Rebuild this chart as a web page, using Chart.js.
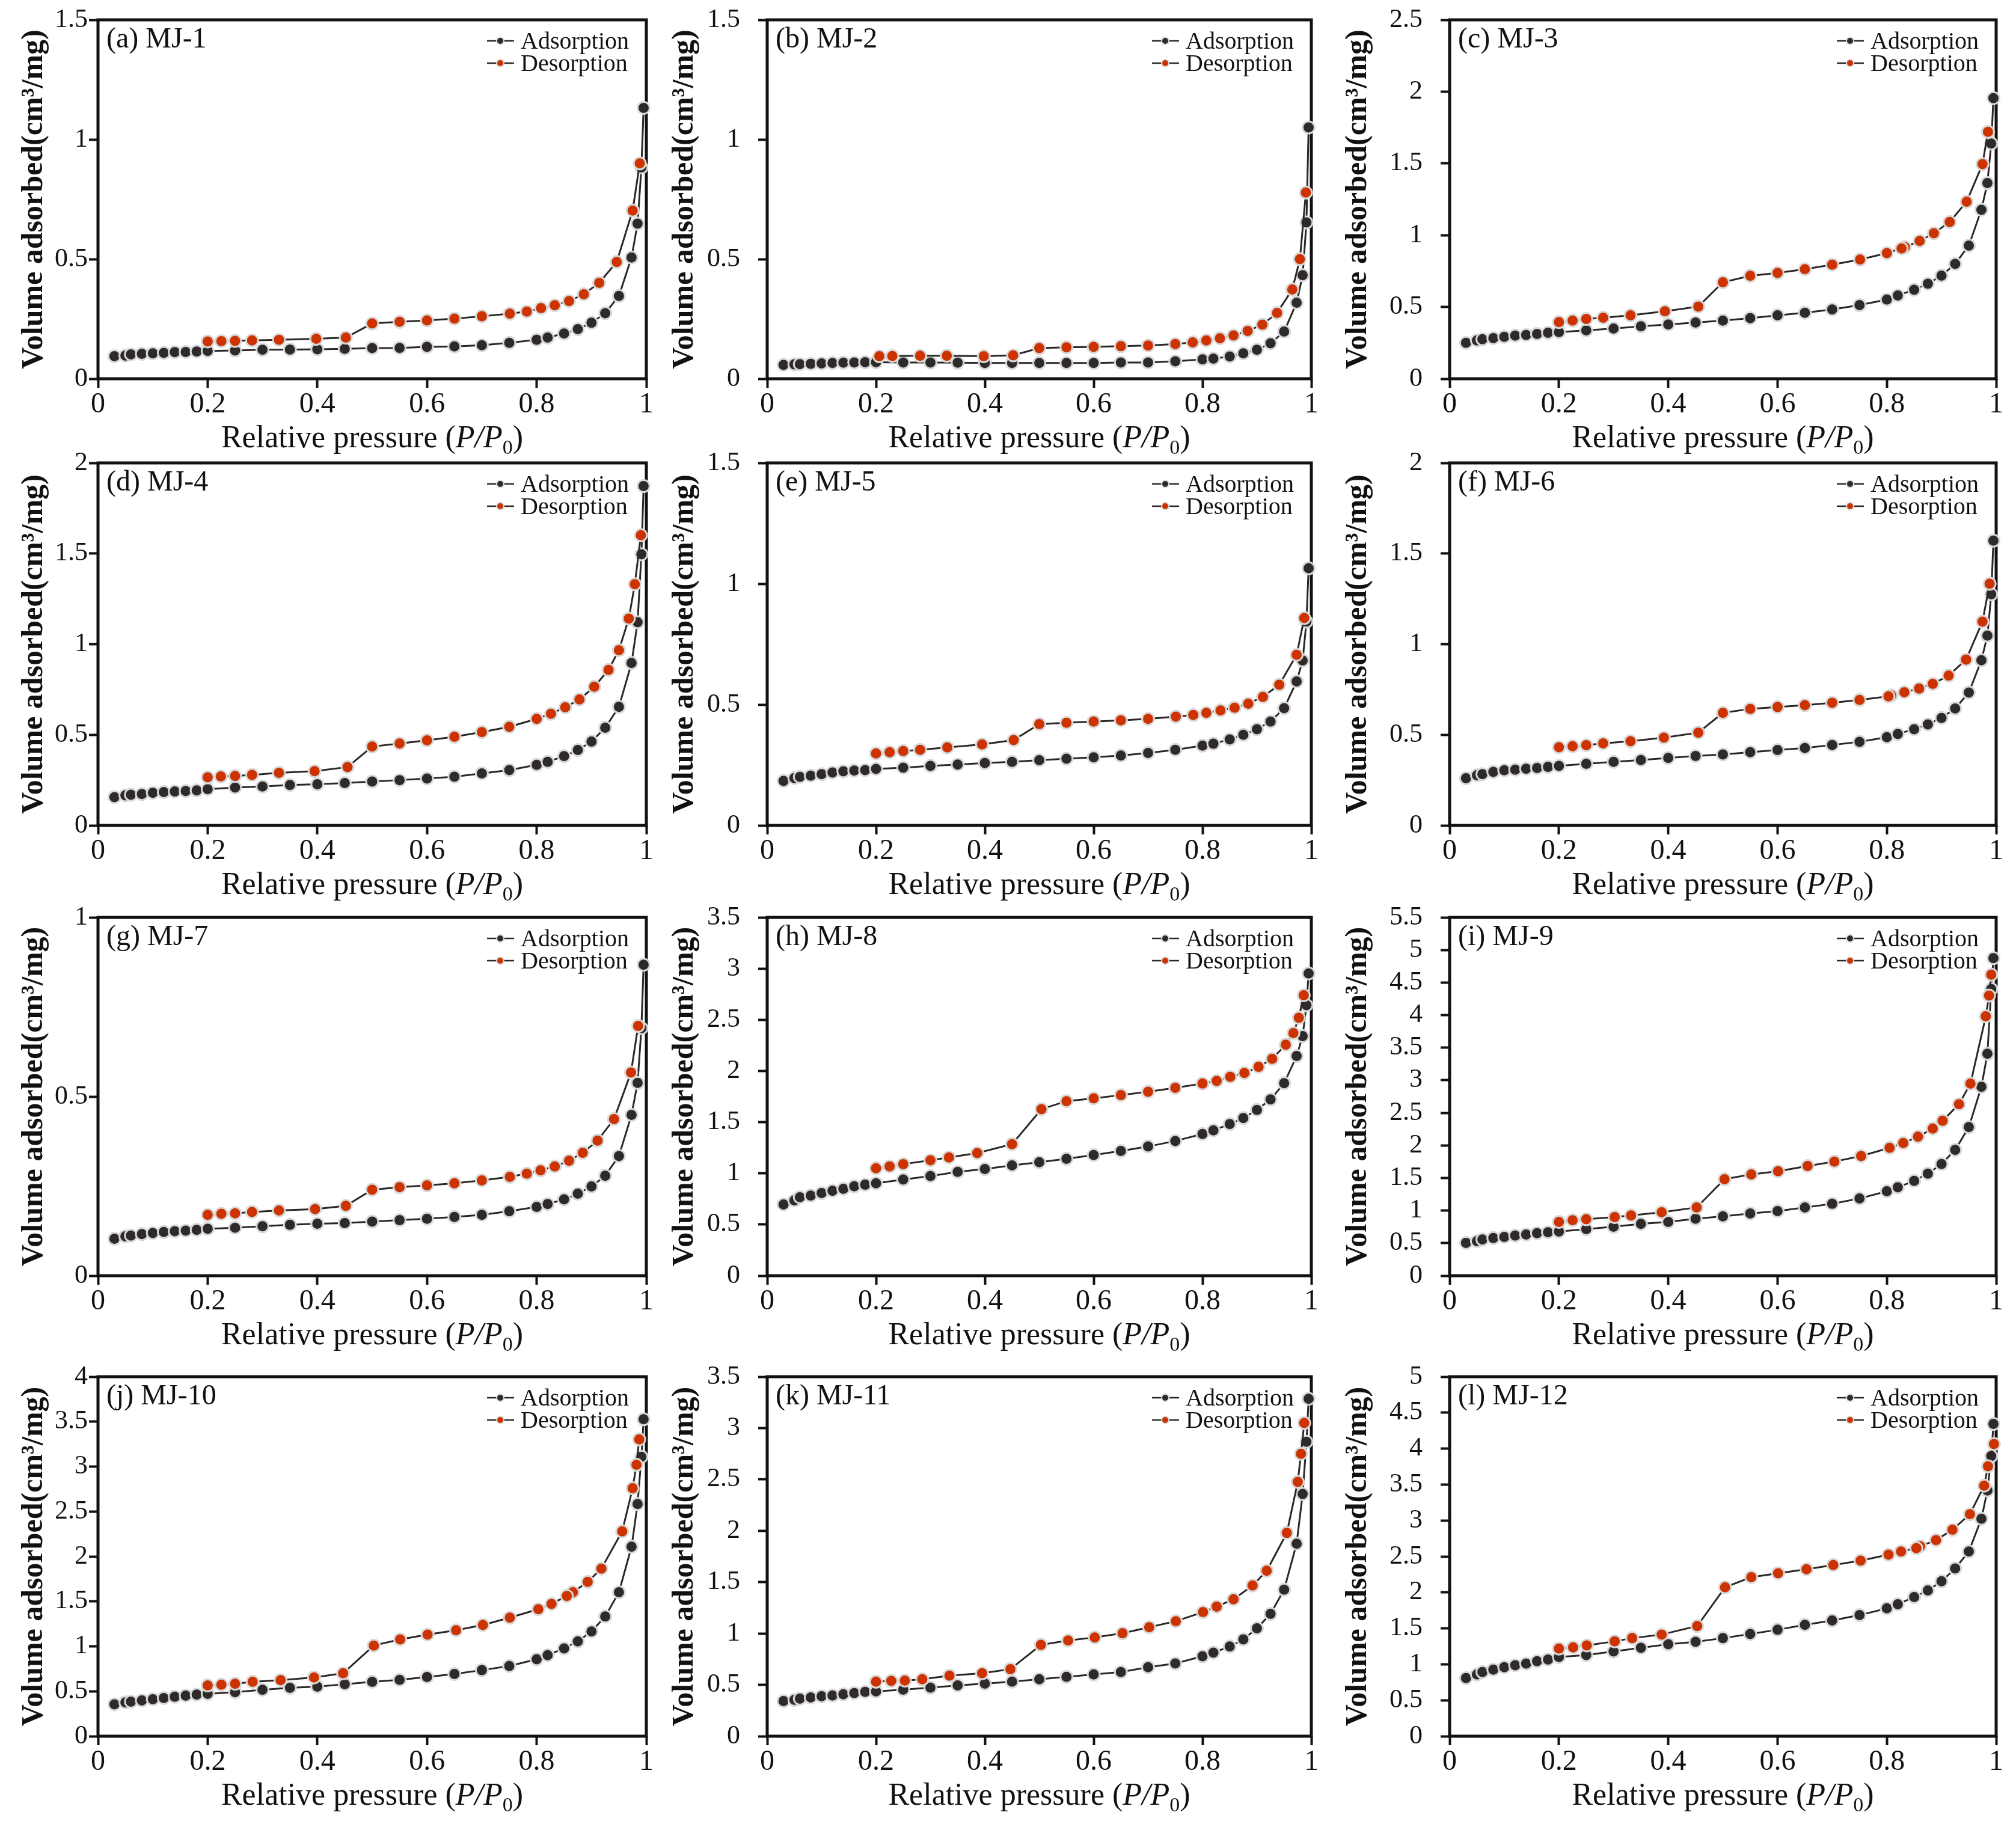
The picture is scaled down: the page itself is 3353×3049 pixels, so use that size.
<!DOCTYPE html>
<html>
<head>
<meta charset="utf-8">
<title>Adsorption-desorption isotherms MJ-1 to MJ-12</title>
<script src="https://cdn.jsdelivr.net/npm/chart.js@4.4.1/dist/chart.umd.min.js"></script>
<style>
  html, body { margin: 0; padding: 0; background: #fff; }
  #page { position: relative; width: 3353px; height: 3049px; overflow: hidden; background: #fff; }
  .panel { position: absolute; }
</style>
</head>
<body>
<div id="page"></div>
<script>
// relative pressure of the adsorption branch (same steps for every sample)
var adsX = [0.03, 0.05, 0.06, 0.08, 0.10, 0.12, 0.14, 0.16, 0.18, 0.20,
            0.25, 0.30, 0.35, 0.40, 0.45, 0.50, 0.55, 0.60, 0.65, 0.70,
            0.75, 0.80, 0.82, 0.85, 0.875, 0.90, 0.925, 0.95, 0.973, 0.984,
            0.991, 0.995];

// (a) MJ-1
var adsA = [0.094, 0.097, 0.102, 0.104, 0.106, 0.108, 0.111, 0.112, 0.114, 0.116,
            0.118, 0.121, 0.122, 0.123, 0.125, 0.128, 0.129, 0.133, 0.135, 0.140,
            0.150, 0.163, 0.172, 0.189, 0.207, 0.234, 0.274, 0.346, 0.507, 0.648,
            0.883, 1.132];
var desXA = [0.988, 0.975, 0.946, 0.914, 0.886, 0.859, 0.833, 0.808, 0.782, 0.751, 0.70,
             0.65, 0.60, 0.55, 0.50, 0.452, 0.398, 0.33, 0.281, 0.25, 0.225, 0.20];
var desA = [0.900, 0.703, 0.488, 0.401, 0.353, 0.325, 0.307, 0.295, 0.281, 0.272, 0.261,
            0.251, 0.244, 0.238, 0.231, 0.172, 0.167, 0.163, 0.160, 0.158, 0.157, 0.156];

// (b) MJ-2
var adsB = [0.058, 0.060, 0.061, 0.0625, 0.064, 0.066, 0.067, 0.068, 0.069, 0.069,
            0.068, 0.068, 0.067, 0.066, 0.066, 0.066, 0.066, 0.066, 0.068, 0.068,
            0.073, 0.081, 0.084, 0.093, 0.106, 0.121, 0.148, 0.197, 0.318, 0.433,
            0.653, 1.050];
var desXB = [0.99, 0.979, 0.965, 0.937, 0.91, 0.883, 0.857, 0.832, 0.807, 0.782, 0.75,
             0.70, 0.65, 0.60, 0.55, 0.50, 0.452, 0.398, 0.33, 0.281, 0.23, 0.206];
var desB = [0.778, 0.50, 0.373, 0.275, 0.226, 0.20, 0.181, 0.169, 0.160, 0.152, 0.145,
            0.139, 0.136, 0.133, 0.131, 0.128, 0.098, 0.094, 0.096, 0.096, 0.095, 0.094];

// (c) MJ-3
var adsC = [0.25, 0.267, 0.275, 0.283, 0.292, 0.30, 0.305, 0.312, 0.32, 0.325,
            0.337, 0.35, 0.365, 0.378, 0.392, 0.405, 0.422, 0.442, 0.46, 0.483,
            0.513, 0.552, 0.58, 0.62, 0.662, 0.718, 0.80, 0.928, 1.177, 1.363,
            1.638, 1.955];
var desXC = [0.985, 0.975, 0.946, 0.915, 0.886, 0.86, 0.833, 0.827, 0.80, 0.751, 0.70,
             0.65, 0.60, 0.55, 0.50, 0.455, 0.394, 0.331, 0.281, 0.25, 0.225, 0.20];
var desC = [1.72, 1.495, 1.233, 1.092, 1.013, 0.96, 0.917, 0.908, 0.875, 0.83, 0.795,
            0.763, 0.737, 0.717, 0.672, 0.503, 0.47, 0.442, 0.425, 0.417, 0.405, 0.395];

// (d) MJ-4
var adsD = [0.156, 0.166, 0.169, 0.173, 0.18, 0.184, 0.187, 0.19, 0.193, 0.20,
            0.209, 0.215, 0.223, 0.227, 0.234, 0.242, 0.25, 0.259, 0.269, 0.287,
            0.305, 0.334, 0.351, 0.382, 0.416, 0.463, 0.539, 0.654, 0.896, 1.121,
            1.496, 1.872];
var desXD = [0.99, 0.979, 0.968, 0.95, 0.931, 0.905, 0.878, 0.852, 0.826, 0.80, 0.75, 0.70,
             0.65, 0.60, 0.55, 0.50, 0.455, 0.395, 0.33, 0.281, 0.25, 0.224, 0.20];
var desD = [1.601, 1.331, 1.141, 0.967, 0.858, 0.765, 0.695, 0.652, 0.616, 0.588, 0.544, 0.515,
            0.489, 0.469, 0.452, 0.435, 0.322, 0.299, 0.29, 0.279, 0.273, 0.27, 0.265];

// (e) MJ-5
var adsE = [0.184, 0.196, 0.201, 0.206, 0.212, 0.219, 0.224, 0.227, 0.229, 0.234,
            0.239, 0.246, 0.252, 0.258, 0.263, 0.27, 0.276, 0.282, 0.289, 0.30,
            0.313, 0.33, 0.338, 0.356, 0.375, 0.398, 0.43, 0.485, 0.596, 0.682,
            0.843, 1.064];
var desXE = [0.987, 0.973, 0.941, 0.911, 0.884, 0.859, 0.833, 0.807, 0.783, 0.751, 0.70,
             0.65, 0.60, 0.55, 0.50, 0.453, 0.395, 0.331, 0.281, 0.25, 0.225, 0.20];
var desE = [0.858, 0.706, 0.582, 0.532, 0.504, 0.487, 0.476, 0.466, 0.457, 0.45, 0.441,
            0.435, 0.43, 0.425, 0.419, 0.353, 0.335, 0.323, 0.313, 0.308, 0.303, 0.298];

// (f) MJ-6
var adsF = [0.26, 0.277, 0.283, 0.295, 0.304, 0.308, 0.313, 0.317, 0.323, 0.328,
            0.34, 0.351, 0.361, 0.372, 0.383, 0.391, 0.404, 0.416, 0.427, 0.444,
            0.461, 0.487, 0.504, 0.531, 0.557, 0.593, 0.645, 0.733, 0.911, 1.047,
            1.275, 1.571];
var desXF = [0.988, 0.975, 0.945, 0.913, 0.884, 0.859, 0.832, 0.808, 0.803, 0.75, 0.70,
             0.65, 0.60, 0.55, 0.50, 0.455, 0.392, 0.331, 0.281, 0.25, 0.225, 0.20];
var desF = [1.333, 1.124, 0.915, 0.827, 0.781, 0.755, 0.735, 0.717, 0.712, 0.692, 0.677,
            0.663, 0.653, 0.643, 0.621, 0.512, 0.484, 0.464, 0.453, 0.443, 0.437, 0.431];

// (g) MJ-7
var adsG = [0.103, 0.110, 0.112, 0.116, 0.119, 0.122, 0.124, 0.126, 0.128, 0.131,
            0.134, 0.138, 0.142, 0.145, 0.147, 0.151, 0.155, 0.159, 0.164, 0.17,
            0.18, 0.192, 0.20, 0.213, 0.229, 0.249, 0.279, 0.334, 0.449, 0.538,
            0.691, 0.868];
var desXG = [0.985, 0.972, 0.941, 0.911, 0.884, 0.859, 0.833, 0.807, 0.782, 0.751, 0.70,
             0.65, 0.60, 0.55, 0.50, 0.452, 0.396, 0.33, 0.281, 0.25, 0.225, 0.20];
var desG = [0.697, 0.567, 0.437, 0.377, 0.343, 0.321, 0.305, 0.294, 0.285, 0.276, 0.266,
            0.258, 0.252, 0.247, 0.24, 0.195, 0.186, 0.182, 0.178, 0.174, 0.173, 0.17];

// (h) MJ-8
var adsH = [0.696, 0.736, 0.767, 0.783, 0.807, 0.83, 0.849, 0.873, 0.889, 0.903,
            0.939, 0.974, 1.014, 1.042, 1.078, 1.108, 1.142, 1.179, 1.219, 1.262,
            1.316, 1.384, 1.42, 1.481, 1.54, 1.62, 1.722, 1.88, 2.146, 2.34,
            2.642, 2.953];
var desXH = [0.986, 0.977, 0.967, 0.953, 0.928, 0.903, 0.877, 0.851, 0.826, 0.80, 0.75, 0.70,
             0.65, 0.60, 0.55, 0.504, 0.45, 0.386, 0.334, 0.30, 0.25, 0.225, 0.20];
var desH = [2.74, 2.519, 2.37, 2.257, 2.118, 2.04, 1.981, 1.943, 1.903, 1.877, 1.835, 1.797,
            1.764, 1.733, 1.705, 1.627, 1.285, 1.198, 1.156, 1.127, 1.09, 1.068, 1.05];

// (i) MJ-9
var adsI = [0.504, 0.53, 0.556, 0.578, 0.596, 0.615, 0.633, 0.652, 0.667, 0.678,
            0.715, 0.752, 0.796, 0.826, 0.874, 0.911, 0.956, 0.993, 1.048, 1.104,
            1.185, 1.296, 1.356, 1.456, 1.567, 1.715, 1.93, 2.281, 2.9, 3.407,
            4.4, 4.874];
var desXI = [0.991, 0.987, 0.981, 0.953, 0.932, 0.902, 0.884, 0.857, 0.83, 0.805, 0.753, 0.704,
             0.655, 0.601, 0.552, 0.503, 0.452, 0.388, 0.332, 0.302, 0.25, 0.225, 0.20];
var desI = [4.622, 4.3, 3.981, 2.948, 2.633, 2.378, 2.259, 2.133, 2.037, 1.963, 1.837, 1.752,
            1.685, 1.604, 1.556, 1.481, 1.048, 0.974, 0.926, 0.9, 0.867, 0.852, 0.826];

// (j) MJ-10
var adsJ = [0.355, 0.377, 0.385, 0.398, 0.412, 0.425, 0.439, 0.452, 0.463, 0.471,
            0.49, 0.517, 0.538, 0.552, 0.579, 0.606, 0.627, 0.659, 0.692, 0.735,
            0.781, 0.856, 0.902, 0.977, 1.055, 1.166, 1.332, 1.602, 2.108, 2.584,
            3.109, 3.526];
var desXJ = [0.987, 0.982, 0.975, 0.956, 0.918, 0.893, 0.866, 0.855, 0.827, 0.803, 0.751, 0.702,
             0.653, 0.601, 0.551, 0.503, 0.447, 0.394, 0.333, 0.282, 0.25, 0.225, 0.20];
var desJ = [3.303, 3.02, 2.759, 2.28, 1.865, 1.717, 1.602, 1.561, 1.472, 1.413, 1.319, 1.238,
            1.179, 1.131, 1.077, 1.009, 0.70, 0.654, 0.624, 0.606, 0.584, 0.573, 0.565];

// (k) MJ-11
var adsK = [0.342, 0.354, 0.366, 0.377, 0.389, 0.396, 0.408, 0.42, 0.432, 0.436,
            0.453, 0.472, 0.495, 0.512, 0.531, 0.554, 0.578, 0.601, 0.625, 0.672,
            0.708, 0.778, 0.814, 0.873, 0.943, 1.05, 1.191, 1.427, 1.875, 2.358,
            2.866, 3.285];
var desXK = [0.987, 0.981, 0.975, 0.955, 0.918, 0.892, 0.857, 0.826, 0.801, 0.751, 0.702,
             0.653, 0.602, 0.553, 0.503, 0.447, 0.395, 0.335, 0.285, 0.253, 0.228, 0.20];
var desK = [3.05, 2.75, 2.476, 1.979, 1.611, 1.467, 1.333, 1.262, 1.208, 1.12, 1.061,
            1.002, 0.962, 0.932, 0.889, 0.653, 0.613, 0.59, 0.554, 0.542, 0.538, 0.531];

// (l) MJ-12
var adsL = [0.808, 0.859, 0.892, 0.926, 0.96, 0.987, 1.01, 1.044, 1.067, 1.101,
            1.128, 1.178, 1.229, 1.279, 1.313, 1.364, 1.421, 1.481, 1.549, 1.609,
            1.684, 1.778, 1.835, 1.936, 2.027, 2.155, 2.333, 2.569, 3.024, 3.418,
            3.896, 4.343];
var desXL = [0.996, 0.985, 0.978, 0.952, 0.92, 0.89, 0.861, 0.854, 0.826, 0.803, 0.752, 0.702,
             0.653, 0.601, 0.552, 0.504, 0.453, 0.388, 0.334, 0.302, 0.251, 0.226, 0.20];
var desL = [4.064, 3.754, 3.485, 3.088, 2.872, 2.727, 2.643, 2.616, 2.569, 2.525, 2.441, 2.381,
            2.323, 2.266, 2.212, 2.071, 1.532, 1.414, 1.364, 1.32, 1.263, 1.236, 1.219];

var panelNames = ['(a) MJ-1', '(b) MJ-2', '(c) MJ-3', '(d) MJ-4', '(e) MJ-5', '(f) MJ-6',
                  '(g) MJ-7', '(h) MJ-8', '(i) MJ-9', '(j) MJ-10', '(k) MJ-11', '(l) MJ-12'];
var yMax = [1.5, 1.5, 2.5, 2, 1.5, 2, 1, 3.5, 5.5, 4, 3.5, 5];
var seriesNames = ['Adsorption', 'Desorption'];
var yTitle = 'Volume adsorbed(cm\u00b3/mg)';

var adsList = [adsA, adsB, adsC, adsD, adsE, adsF, adsG, adsH, adsI, adsJ, adsK, adsL];
var desXList = [desXA, desXB, desXC, desXD, desXE, desXF, desXG, desXH, desXI, desXJ, desXK, desXL];
var desList = [desA, desB, desC, desD, desE, desF, desG, desH, desI, desJ, desK, desL];

// page layout (plot area edges in px)
var colLeft = [163, 1276, 2411];
var colRight = [1075, 2181, 3320];
var rowTop = [33, 770, 1526, 2290];
var rowBottom = [630, 1373, 2122, 2888];
var axisWidth = [160, 200, 200];
var yTitleGap = [106, 137, 152];
var yTickPad = [2, 30, 30];

var FONT = '"Liberation Serif", "Times New Roman", serif';
var INK = '#111111';
var LINE = '#2b2727';
var ADS_FILL = '#2e2a2a';
var DES_FILL = '#cc3300';
var RING = '#d9d9d9';
var Y_TITLE_SIZE = 50;

Chart.defaults.font.family = FONT;
Chart.defaults.color = INK;

function pairs(xs, ys) {
  var out = [];
  for (var i = 0; i < xs.length; i++) {
    out.push({ x: xs[i], y: ys[i] });
  }
  return out;
}

function fmt(v) {
  return String(+v.toFixed(2));
}

// frame round the plot, legend, panel label and the x title with italic P/P0
var decor = {
  id: 'decor',
  beforeDatasetsDraw: function(chart) {
    var a = chart.chartArea, ctx = chart.ctx;
    ctx.save();
    ctx.lineWidth = 5;
    ctx.strokeStyle = INK;
    ctx.strokeRect(a.left, a.top, a.right - a.left, a.bottom - a.top);
    ctx.restore();
  },
  afterDatasetsDraw: function(chart, args, opts) {
    var a = chart.chartArea, ctx = chart.ctx;
    ctx.save();

    // panel label
    ctx.fillStyle = INK;
    ctx.font = '48px ' + FONT;
    ctx.textAlign = 'left';
    ctx.textBaseline = 'alphabetic';
    ctx.fillText(opts.name, a.left + 14, a.top + 46);

    // legend
    var lx = a.right - 265;
    chart.data.datasets.forEach(function(ds, k) {
      var y = a.top + 35 + k * 37;
      ctx.strokeStyle = LINE;
      ctx.lineWidth = 2.5;
      ctx.beginPath();
      ctx.moveTo(lx, y);
      ctx.lineTo(lx + 45, y);
      ctx.stroke();
      ctx.beginPath();
      ctx.arc(lx + 22, y, 6, 0, Math.PI * 2);
      ctx.fillStyle = ds.pointBackgroundColor;
      ctx.fill();
      ctx.lineWidth = 2;
      ctx.strokeStyle = RING;
      ctx.stroke();
      ctx.fillStyle = INK;
      ctx.font = '40px ' + FONT;
      ctx.textBaseline = 'middle';
      ctx.fillText(ds.label, lx + 56, y + 2);
    });

    // x axis title
    var parts = [
      ['Relative pressure (', 'normal', 52, 0],
      ['P/P', 'italic', 52, 0],
      ['0', 'normal', 34, 11],
      [')', 'normal', 52, 0]
    ];
    var total = 0;
    parts.forEach(function(p) {
      ctx.font = p[1] + ' ' + p[2] + 'px ' + FONT;
      p.push(ctx.measureText(p[0]).width);
      total += p[4];
    });
    var x = (a.left + a.right) / 2 - total / 2;
    var base = a.bottom + 114;
    ctx.textBaseline = 'alphabetic';
    parts.forEach(function(p) {
      ctx.font = p[1] + ' ' + p[2] + 'px ' + FONT;
      ctx.fillText(p[0], x, base + p[3]);
      x += p[4];
    });
    ctx.restore();
  }
};

function makePanel(i) {
  var col = i % 3, row = Math.floor(i / 3);
  var L = colLeft[col], R = colRight[col], T = rowTop[row], B = rowBottom[row];
  // top room must exceed half a tick label plus the tick padding
  var axW = axisWidth[col], padTop = col === 0 ? 40 : 62, axH = 140, padRight = 30;

  var div = document.createElement('div');
  div.className = 'panel';
  div.style.left = (L - axW) + 'px';
  div.style.top = (T - padTop) + 'px';
  div.style.width = (R - L + axW + padRight) + 'px';
  div.style.height = (B - T + padTop + axH) + 'px';
  var canvas = document.createElement('canvas');
  div.appendChild(canvas);
  document.getElementById('page').appendChild(div);

  var tickGrid = {
    drawOnChartArea: false,
    drawTicks: true,
    tickLength: 15,
    tickWidth: 4,
    tickColor: INK,
    color: INK
  };

  new Chart(canvas, {
    type: 'scatter',
    data: {
      datasets: [{
        label: seriesNames[0],
        data: pairs(adsX, adsList[i]),
        showLine: true,
        borderColor: LINE,
        borderWidth: 3,
        pointRadius: 10,
        pointBorderWidth: 3,
        pointBackgroundColor: ADS_FILL,
        pointBorderColor: RING,
        clip: false,
        order: 1
      }, {
        label: seriesNames[1],
        data: pairs(desXList[i], desList[i]),
        showLine: true,
        borderColor: LINE,
        borderWidth: 3,
        pointRadius: 10,
        pointBorderWidth: 3,
        pointBackgroundColor: DES_FILL,
        pointBorderColor: RING,
        clip: false,
        order: 0
      }]
    },
    options: {
      responsive: true,
      maintainAspectRatio: false,
      animation: false,
      layout: { padding: { left: 0, top: padTop, right: padRight, bottom: 0 } },
      plugins: {
        legend: { display: false },
        tooltip: { enabled: false },
        decor: { name: panelNames[i] }
      },
      scales: {
        x: {
          type: 'linear',
          min: 0,
          max: 1,
          border: { display: false },
          grid: tickGrid,
          ticks: {
            stepSize: 0.2,
            autoSkip: false,
            maxRotation: 0,
            padding: 0,
            color: INK,
            font: { size: 48 },
            callback: fmt
          },
          afterFit: function(s) { s.height = axH; }
        },
        y: {
          type: 'linear',
          min: 0,
          max: yMax[i],
          border: { display: false },
          grid: tickGrid,
          ticks: {
            stepSize: 0.5,
            autoSkip: false,
            padding: yTickPad[col],
            color: INK,
            font: { size: 44 },
            callback: fmt
          },
          title: {
            display: true,
            text: yTitle,
            color: INK,
            font: { size: Y_TITLE_SIZE, weight: 'bold' },
            padding: { top: axW - yTitleGap[col] - Y_TITLE_SIZE * 0.6, bottom: 0 }
          },
          afterFit: function(s) { s.width = axW; }
        }
      }
    },
    plugins: [decor]
  });
}

for (var p = 0; p < panelNames.length; p++) {
  makePanel(p);
}
</script>
</body>
</html>
